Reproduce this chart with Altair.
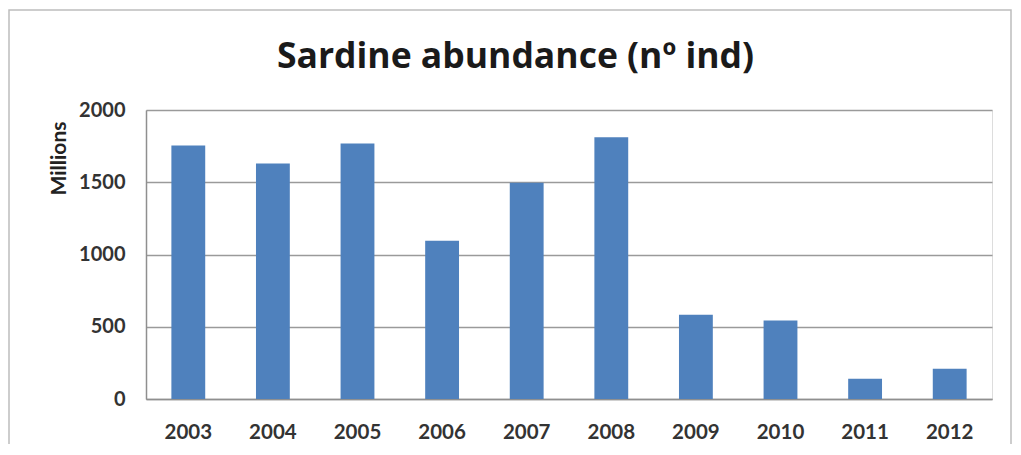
import altair as alt
import pandas as pd

years = ["2003", "2004", "2005", "2006", "2007", "2008", "2009", "2010", "2011", "2012"]
abundance = [1755, 1630, 1768, 1095, 1497, 1812, 583, 543, 140, 209]
y_ticks = [0, 500, 1000, 1500, 2000]
chart_title = "Sardine abundance (nº ind)"

df = pd.DataFrame({"year": years, "value": abundance})

W, H = 846, 289

frame = alt.Chart(pd.DataFrame({"k": [0]})).mark_rect(
    fill=None, stroke="#bdbdbd", strokeWidth=1.5
).encode(
    x=alt.value(-137), x2=alt.value(865), y=alt.value(-100), y2=alt.value(345)
)

title_text = alt.Chart(pd.DataFrame({"t": [chart_title]})).mark_text(
    font="Open Sans", fontSize=35.5, fontWeight="bold", color="#1a1a1a",
    align="center", baseline="alphabetic"
).encode(text="t:N", x=alt.value(369.5), y=alt.value(-42))

bars = alt.Chart(df).mark_bar(color="#4F81BD").encode(
    x=alt.X("year:N", sort=years,
            scale=alt.Scale(paddingInner=0.6, paddingOuter=0.3),
            axis=alt.Axis(title=None, labelAngle=0, ticks=False, tickSize=0,
                          labelPadding=23, labelFont="Lato", labelFontSize=20.5,
                          labelFontWeight="bold", labelColor="#333333",
                          domainColor="#8f8f8f", domainWidth=1.5)),
    y=alt.Y("value:Q", scale=alt.Scale(domain=[0, 2000], nice=False),
            axis=alt.Axis(title="Millions", values=y_ticks, format="d",
                          ticks=False, tickSize=0,
                          labelPadding=21, labelFont="Lato", labelFontSize=20,
                          labelFontWeight="bold", labelColor="#333333",
                          gridColor="#9a9a9a", gridWidth=1.5,
                          domainColor="#8f8f8f", domainWidth=1.5,
                          titleFont="Lato", titleFontSize=21, titleFontWeight="bold",
                          titleColor="#222222", titleAngle=-90, titleAlign="center",
                          titleBaseline="middle", titleX=-87, titleY=48)),
)

chart = alt.layer(frame, bars, title_text).properties(
    width=W, height=H,
    autosize=alt.AutoSizeParams(type="none"),
    padding={"left": 138, "top": 102, "right": 20, "bottom": 45},
).configure_view(stroke=None).configure(background="white")

chart.save("out.html", embed_options={"renderer": "svg", "actions": False})
